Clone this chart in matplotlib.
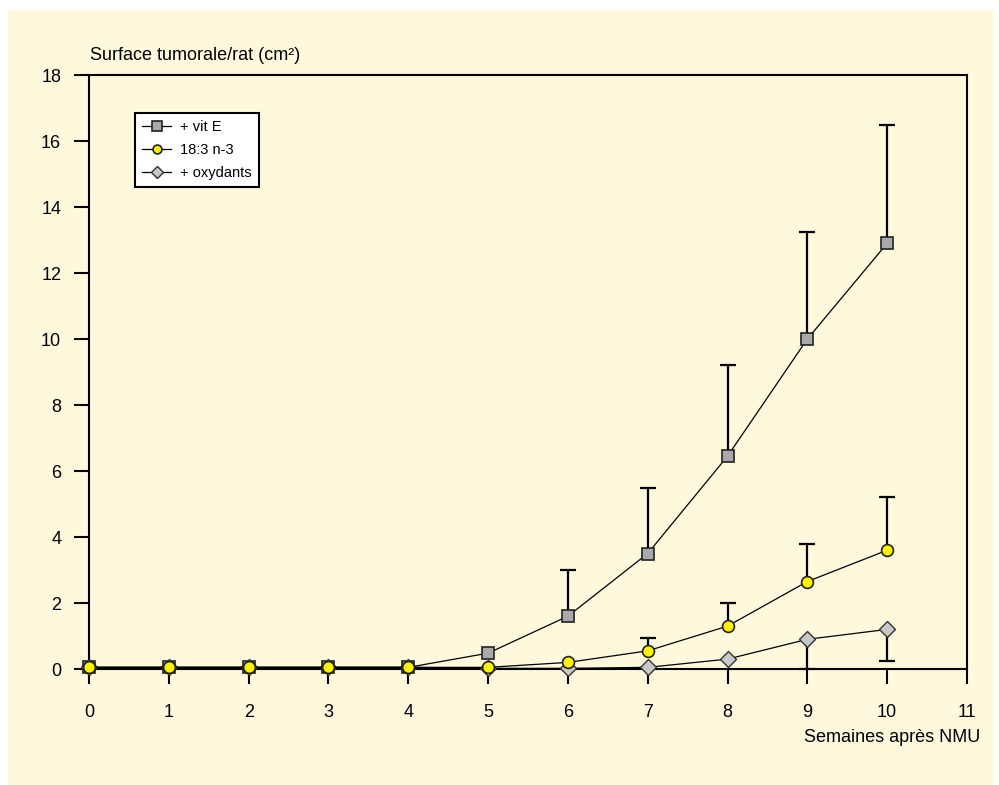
import matplotlib.pyplot as plt
import matplotlib.patches as patches
import numpy as np

plt.rcParams['font.family'] = ['Liberation Sans', 'DejaVu Sans']

# data
weeks = [0, 1, 2, 3, 4, 5, 6, 7, 8, 9, 10]

vitE = [0.05, 0.05, 0.05, 0.05, 0.05, 0.48, 1.6, 3.5, 6.45, 10.0, 12.9]
vitE_up = [0, 0, 0, 0, 0, 0, 1.4, 2.0, 2.75, 3.25, 3.6]

n3 = [0.05, 0.05, 0.05, 0.05, 0.05, 0.05, 0.2, 0.55, 1.3, 2.65, 3.6]
n3_up = [0, 0, 0, 0, 0, 0, 0, 0.38, 0.7, 1.15, 1.6]

oxyd = [0.05, 0.05, 0.05, 0.05, 0.05, 0.02, 0.02, 0.05, 0.3, 0.9, 1.2]
oxyd_down = [0, 0, 0, 0, 0, 0, 0, 0, 0, 0.9, 0.95]

labels = ['+ vit E', '18:3 n-3', '+ oxydants']
xticks = list(range(0, 12))
yticks = list(range(0, 20, 2))

cream = '#FEF9DD'

fig = plt.figure(figsize=(9.99, 7.85), dpi=100)
fig.patch.set_facecolor('white')
bg = patches.Rectangle((8 / 999, 0), (994 - 8) / 999, 1 - 10 / 785,
                       transform=fig.transFigure, facecolor=cream,
                       edgecolor='none', zorder=-10)
fig.patches.append(bg)

ax = fig.add_axes([89 / 999, 1 - 669 / 785, (967 - 89) / 999, (669 - 75) / 785])
ax.set_zorder(1)
ax.set_facecolor(cream)


def one_sided(x, y, err, up=True):
    x = np.array(x, float)
    y = np.array(y, float)
    err = np.array(err, float)
    keep = err > 0
    z = np.zeros(keep.sum())
    yerr = [z, err[keep]] if up else [err[keep], z]
    _, caps, _ = ax.errorbar(x[keep], y[keep], yerr=yerr, fmt='none',
                             ecolor='black', elinewidth=1.6, capsize=6,
                             capthick=1.6, zorder=2, clip_on=False)
    # hide the cap that sits on the marker
    caps[0 if up else 1].set_visible(False)


one_sided(weeks, vitE, vitE_up, up=True)
one_sided(weeks, n3, n3_up, up=True)
one_sided(weeks, oxyd, oxyd_down, up=False)

# series
l1, = ax.plot(weeks, vitE, color='black', lw=0.9, marker='s', ms=9,
              mfc='#A9A9A9', mec='#222222', mew=1.2, zorder=3, clip_on=False)
l3, = ax.plot(weeks, oxyd, color='black', lw=0.9, marker='D', ms=8.5,
              mfc='#C8C8C8', mec='#333333', mew=1.0, zorder=4, clip_on=False)
l2, = ax.plot(weeks, n3, color='black', lw=0.9, marker='o', ms=8.5,
              mfc='#FFF200', mec='#222222', mew=1.2, zorder=5, clip_on=False)

ax.set_xlim(0, 11)
ax.set_ylim(0, 18)
ax.set_xticks(xticks)
ax.set_yticks(yticks)
ax.tick_params(axis='both', labelsize=13, width=1.5, length=11, color='black')
ax.tick_params(axis='x', pad=14)
ax.tick_params(axis='y', pad=9)
for s in ax.spines.values():
    s.set_linewidth(1.5)

leg = ax.legend([l1, l2, l3], labels, loc='upper left',
                bbox_to_anchor=(0.044, 0.948), fontsize=10.5, frameon=True,
                fancybox=False, edgecolor='black', facecolor='white',
                framealpha=1, handlelength=2.0, markerscale=0.75,
                borderpad=0.5, labelspacing=0.6, handletextpad=0.6)
leg.get_frame().set_linewidth(1.5)

fig.text(90 / 999, 1 - 55 / 785, 'Surface tumorale/rat (cm²)', fontsize=13,
         ha='left', va='center')
fig.text(980 / 999, 1 - 738 / 785, 'Semaines après NMU', fontsize=13,
         ha='right', va='center')

fig.savefig('out.png', dpi=100, facecolor=fig.get_facecolor())
